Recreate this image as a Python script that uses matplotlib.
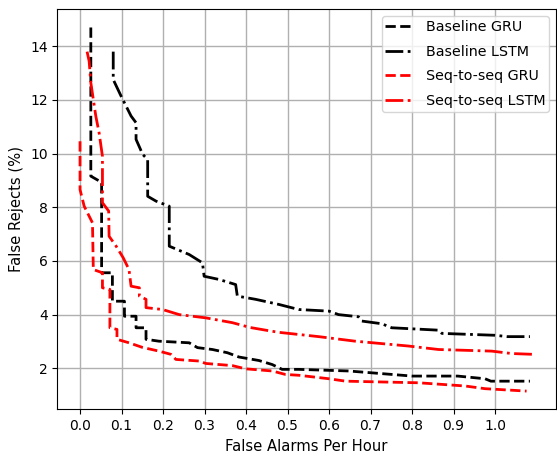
import matplotlib
matplotlib.use('Agg')
import matplotlib.pyplot as plt

# ROC-style curves: false rejects vs false alarms per hour
base_gru_x = [0.026, 0.026, 0.052, 0.052, 0.078, 0.078, 0.107, 0.107, 0.135, 0.135, 0.159, 0.159,
              0.19, 0.263, 0.283, 0.319, 0.355, 0.383, 0.431, 0.463, 0.487, 0.527, 0.647, 0.72,
              0.80, 0.91, 0.976, 0.99, 1.084]
base_gru_y = [14.7, 9.16, 8.93, 5.56, 5.56, 4.5, 4.5, 3.94, 3.94, 3.51, 3.51, 3.08,
              3.01, 2.95, 2.77, 2.70, 2.58, 2.42, 2.29, 2.14, 1.96, 1.96, 1.9, 1.81,
              1.71, 1.71, 1.61, 1.52, 1.52]

base_lstm_x = [0.08, 0.08, 0.099, 0.123, 0.135, 0.135, 0.151, 0.163, 0.163, 0.183, 0.215, 0.215,
               0.263, 0.295, 0.299, 0.335, 0.375, 0.379, 0.423, 0.479, 0.527, 0.6, 0.623, 0.671,
               0.679, 0.727, 0.751, 0.864, 0.872, 1.0, 1.03, 1.084]
base_lstm_y = [13.8, 12.76, 12.14, 11.4, 11.15, 10.53, 9.97, 9.78, 8.41, 8.23, 8.04, 6.55,
               6.24, 5.93, 5.43, 5.31, 5.12, 4.69, 4.57, 4.38, 4.19, 4.13, 4.0, 3.92,
               3.76, 3.66, 3.51, 3.42, 3.3, 3.23, 3.18, 3.18]

s2s_gru_x = [0.0, 0.0, 0.010, 0.030, 0.032, 0.054, 0.054, 0.072, 0.072, 0.089, 0.089, 0.118,
             0.15, 0.19, 0.219, 0.231, 0.287, 0.303, 0.367, 0.399, 0.463, 0.495, 0.527, 0.6,
             0.64, 0.816, 0.928, 0.976, 1.076]
s2s_gru_y = [10.46, 8.66, 8.04, 7.42, 5.68, 5.56, 5.0, 4.94, 3.51, 3.45, 3.08, 2.95,
             2.78, 2.64, 2.52, 2.33, 2.27, 2.18, 2.1, 1.98, 1.9, 1.77, 1.74, 1.61,
             1.52, 1.46, 1.34, 1.24, 1.15]

s2s_lstm_x = [0.017, 0.022, 0.026, 0.038, 0.046, 0.054, 0.054, 0.069, 0.07, 0.087, 0.104, 0.118,
              0.123, 0.143, 0.143, 0.159, 0.159, 0.199, 0.239, 0.303, 0.367, 0.41, 0.455, 0.479,
              0.527, 0.575, 0.663, 0.791, 0.864, 0.992, 1.04, 1.092]
s2s_lstm_y = [13.8, 13.44, 12.64, 11.4, 10.77, 9.9, 8.17, 7.86, 6.92, 6.55, 6.12, 5.68,
              5.06, 5.0, 4.69, 4.57, 4.26, 4.19, 4.0, 3.88, 3.70, 3.52, 3.4, 3.34,
              3.26, 3.18, 3.01, 2.83, 2.7, 2.64, 2.55, 2.52]

x_ticks = [0.0, 0.1, 0.2, 0.3, 0.4, 0.5, 0.6, 0.7, 0.8, 0.9, 1.0]
y_ticks = [2, 4, 6, 8, 10, 12, 14]

plt.rcParams['font.size'] = 10

fig = plt.figure(figsize=(5.57, 4.54), dpi=100)
ax = fig.add_axes([0.103, 0.0985, 0.895, 0.881])

ax.plot(base_gru_x, base_gru_y, 'k--', lw=2, label='Baseline GRU')
ax.plot(base_lstm_x, base_lstm_y, 'k-.', lw=2, label='Baseline LSTM')
ax.plot(s2s_gru_x, s2s_gru_y, 'r--', lw=2, label='Seq-to-seq GRU')
ax.plot(s2s_lstm_x, s2s_lstm_y, 'r-.', lw=2, label='Seq-to-seq LSTM')

ax.set_xticks(x_ticks)
ax.set_yticks(y_ticks)
ax.set_xlabel('False Alarms Per Hour', fontsize=10.6)
ax.set_ylabel('False Rejects (%)', fontsize=10.6)
ax.grid(True, color='#b0b0b0', lw=1)
ax.legend(loc='upper right', fontsize=10.3, labelspacing=0.75, borderpad=0.25)

fig.savefig('out.png', dpi=100)
